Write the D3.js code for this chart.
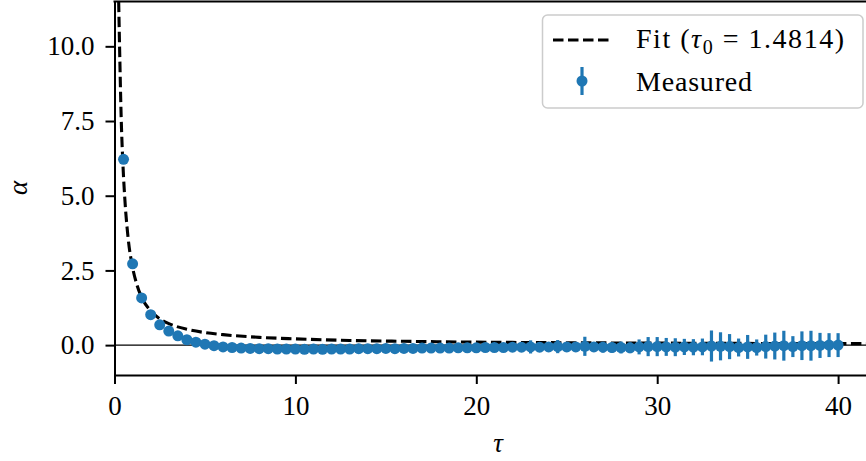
<!DOCTYPE html>
<html><head><meta charset="utf-8">
<script src="https://cdn.jsdelivr.net/npm/d3@7"></script>
<style>body{margin:0;background:#fff} svg{display:block}</style>
</head><body><svg id="c" width="866" height="461"></svg>
<script>
// ---- data ----
const tauValues = [0.5,1,1.5,2,2.5,3,3.5,4,4.5,5,5.5,6,6.5,7,7.5,8,8.5,9,9.5,10,
  10.5,11,11.5,12,12.5,13,13.5,14,14.5,15,15.5,16,16.5,17,17.5,18,18.5,19,19.5,20,
  20.5,21,21.5,22,22.5,23,23.5,24,24.5,25,25.5,26,26.5,27,27.5,28,28.5,29,29.5,30,
  30.5,31,31.5,32,32.5,33,33.5,34,34.5,35,35.5,36,36.5,37,37.5,38,38.5,39,39.5,40];
const alphaValues = [6.22,2.72,1.58,1.02,0.68,0.47,0.31,0.18,0.10,0.03,-0.02,-0.06,-0.08,-0.10,-0.11,-0.12,-0.12,-0.13,-0.13,-0.13,
  -0.14,-0.13,-0.14,-0.13,-0.13,-0.13,-0.12,-0.12,-0.12,-0.11,-0.12,-0.11,-0.11,-0.10,-0.10,-0.10,-0.10,-0.09,-0.09,-0.09,
  -0.08,-0.08,-0.08,-0.07,-0.07,-0.06,-0.07,-0.06,-0.05,-0.06,-0.06,-0.04,-0.06,-0.07,-0.08,-0.08,-0.09,-0.06,-0.05,-0.05,
  -0.06,-0.07,-0.06,-0.07,-0.06,-0.03,-0.04,-0.05,-0.08,-0.06,-0.08,-0.05,-0.03,-0.02,-0.05,-0.02,-0.02,-0.01,0.00,0.00];
const alphaErrors = [0.02,0.02,0.02,0.02,0.02,0.02,0.02,0.02,0.02,0.02,0.02,0.02,0.02,0.03,0.03,0.03,0.03,0.03,0.03,0.03,
  0.04,0.04,0.04,0.04,0.05,0.05,0.05,0.05,0.05,0.05,0.06,0.06,0.06,0.06,0.06,0.07,0.07,0.07,0.08,0.08,
  0.08,0.09,0.09,0.10,0.10,0.22,0.12,0.13,0.22,0.14,0.15,0.32,0.15,0.18,0.17,0.20,0.18,0.25,0.32,0.32,
  0.30,0.30,0.27,0.27,0.28,0.52,0.47,0.42,0.30,0.40,0.27,0.40,0.45,0.50,0.35,0.48,0.50,0.42,0.40,0.40];
const fitTau   = [0.2,0.28,0.37,0.47,0.57,0.75,1.0,1.25,1.5,2.0,2.5,3.0,4.0,5.0,6.0,8.0,10,13,16,20,25,30,35,40,42];
const fitAlpha = [12.5,10.0,7.6,6.0,4.9,3.6,2.6,2.0,1.6,1.15,0.88,0.72,0.53,0.42,0.35,0.26,0.21,0.155,0.127,0.10,0.08,0.067,0.057,0.05,0.048];
const xTicks = [0,10,20,30,40];
const yTicks = [0,2.5,5,7.5,10];
const xDomain = [0,42], yDomain = [-1,11.5];
const fitLabelParts = ["Fit (", "τ", "0", " = 1.4814)"];
const measuredLabel = "Measured";
const xLabel = "τ", yLabel = "α";

// ---- drawing ----
(function(){
const svg = d3.select("#c");
const FONT = "'Liberation Serif', 'Times New Roman', serif";
const FS = 27;
const blue = "#1f77b4";
const pL = 114.5, pT = 1.5, pB = 375, pR = 114.5 + 42*18.09;
const x = d3.scaleLinear().domain(xDomain).range([pL, pR]);
const y = d3.scaleLinear().domain(yDomain).range([pB, pT]);

svg.append("defs").append("clipPath").attr("id","clip")
  .append("rect").attr("x",pL).attr("y",pT).attr("width",pR-pL).attr("height",pB-pT);

const plot = svg.append("g").attr("clip-path","url(#clip)");

// zero line
plot.append("line").attr("x1",pL).attr("x2",pR).attr("y1",y(0)).attr("y2",y(0))
  .attr("stroke","#000").attr("stroke-width",1.1);

// fit curve
const fitData = fitTau.map((t,i)=>[t,fitAlpha[i]]);
plot.append("path").datum(fitData)
  .attr("d", d3.line().x(d=>x(d[0])).y(d=>y(d[1])).curve(d3.curveMonotoneX))
  .attr("fill","none").attr("stroke","#000").attr("stroke-width",3.1)
  .attr("stroke-dasharray","10.5,4.5");

// measured
const meas = tauValues.map((t,i)=>({t, a:alphaValues[i], e:alphaErrors[i]}));
plot.selectAll("line.eb").data(meas).join("line").attr("class","eb")
  .attr("x1",d=>x(d.t)).attr("x2",d=>x(d.t))
  .attr("y1",d=>y(d.a-d.e)).attr("y2",d=>y(d.a+d.e))
  .attr("stroke",blue).attr("stroke-width",3.2);
plot.selectAll("circle.pt").data(meas).join("circle").attr("class","pt")
  .attr("cx",d=>x(d.t)).attr("cy",d=>y(d.a)).attr("r",5.5).attr("fill",blue);

// axes
const xAxis = svg.append("g").attr("transform",`translate(0,${pB})`)
  .call(d3.axisBottom(x).tickValues(xTicks).tickFormat(d3.format("d")).tickSize(9).tickSizeOuter(0).tickPadding(12));
const yAxis = svg.append("g").attr("transform",`translate(${pL},0)`)
  .call(d3.axisLeft(y).tickValues(yTicks).tickFormat(d3.format(".1f")).tickSize(9).tickSizeOuter(0).tickPadding(11));
[xAxis,yAxis].forEach(g=>{
  g.selectAll(".domain").attr("stroke","#000").attr("stroke-width",2);
  g.selectAll(".tick line").attr("stroke","#000").attr("stroke-width",2);
  g.selectAll(".tick text").attr("fill","#000").style("font-family",FONT).style("font-size",FS+"px");
});
// top spine
svg.append("line").attr("x1",pL-1).attr("x2",876).attr("y1",pT).attr("y2",pT)
  .attr("stroke","#000").attr("stroke-width",2.2);

// axis labels
svg.append("text").attr("x",x(21.2)).attr("y",452).attr("text-anchor","middle")
  .style("font-family",FONT).style("font-size",FS+"px").style("font-style","italic").text(xLabel);
svg.append("text").attr("transform","translate(27,188) rotate(-90)").attr("text-anchor","middle")
  .style("font-family",FONT).style("font-size",FS+"px").style("font-style","italic").text(yLabel);

// legend
const lg = svg.append("g");
lg.append("rect").attr("x",542.5).attr("y",15).attr("width",320.5).attr("height",93).attr("rx",5)
  .attr("fill","#fff").attr("fill-opacity",0.8).attr("stroke","#cccccc").attr("stroke-width",1.5);
lg.append("line").attr("x1",553).attr("x2",612).attr("y1",40).attr("y2",40)
  .attr("stroke","#000").attr("stroke-width",3.1).attr("stroke-dasharray","10.5,4.5");
const ft = lg.append("text").attr("x",636).attr("y",48)
  .attr("textLength",208).attr("lengthAdjust","spacing")
  .style("font-family",FONT).style("font-size",(FS+1)+"px");
ft.append("tspan").text(fitLabelParts[0]);
ft.append("tspan").style("font-style","italic").text(fitLabelParts[1]);
ft.append("tspan").attr("dy",6).style("font-size","20px").text(fitLabelParts[2]);
ft.append("tspan").attr("dy",-6).text(fitLabelParts[3]);
lg.append("line").attr("x1",582).attr("x2",582).attr("y1",67).attr("y2",95)
  .attr("stroke",blue).attr("stroke-width",3.2);
lg.append("circle").attr("cx",582).attr("cy",81).attr("r",5.5).attr("fill",blue);
lg.append("text").attr("x",636).attr("y",91)
  .attr("textLength",116).attr("lengthAdjust","spacing")
  .style("font-family",FONT).style("font-size",(FS+1)+"px").text(measuredLabel);
})();
</script></body></html>
